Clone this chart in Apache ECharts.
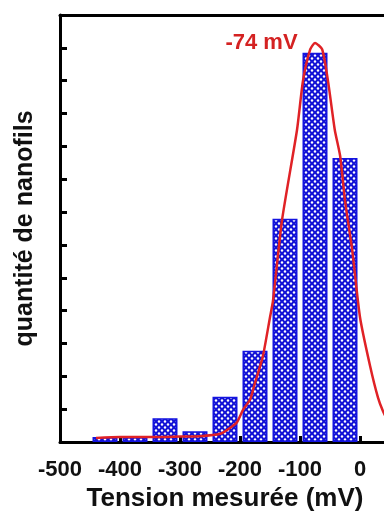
<!DOCTYPE html>
<html>
<head>
<meta charset="utf-8">
<script src="https://cdn.jsdelivr.net/npm/echarts@6/dist/echarts.min.js"></script>
<style>
html,body{margin:0;padding:0;background:#fff;}
#c{width:384px;height:511px;}
</style>
</head>
<body>
<div id="c"></div>
<script>
// Bin centres (mV) and bar heights (relative counts)
const binCenters = [-425, -375, -325, -275, -225, -175, -125, -75, -25];
const binCounts  = [0.3, 0.3, 1.45, 0.65, 2.75, 5.55, 13.6, 23.7, 17.3];

// Fitted curve (mV, value)
const fitX = [-440, -400, -350, -300, -267, -233, -215, -205, -195, -183, -175, -162, -150, -145, -130, -105, -95, -83, -75, -63, -53, -42, -33, -25, -13, 0, 17, 30, 38, 50];
const fitY = [0.25, 0.3, 0.3, 0.33, 0.35, 0.5, 0.9, 1.2, 1.95, 2.6, 3.6, 5.2, 7.6, 8.6, 13.5, 19.0, 22.0, 23.9, 24.3, 23.9, 21.9, 19.0, 17.4, 14.7, 11.7, 7.6, 4.6, 2.7, 1.9, 1.0];

const peakX = -74;
const peakLabel = '-74 mV';
const xTicks = [-500, -400, -300, -200, -100, 0];

const xTitle = 'Tension mesurée (mV)';
const yTitle = 'quantité de nanofils';

// hatch pattern for bars
function makePattern() {
  const c = document.createElement('canvas');
  c.width = 6; c.height = 6;
  const g = c.getContext('2d');
  g.fillStyle = '#1414d6';
  g.fillRect(0, 0, 6, 6);
  g.fillStyle = '#ffffff';
  const pts = [[3, 1.5], [0, 4.5], [6, 4.5]];
  pts.forEach(p => { g.beginPath(); g.arc(p[0], p[1], 1.2, 0, Math.PI * 2); g.fill(); });
  return c;
}

const chart = echarts.init(document.getElementById('c'), null, {renderer: 'canvas'});
const font = "'Liberation Sans', Arial, sans-serif";

const option = {
  animation: false,
  backgroundColor: '#ffffff',
  grid: {left: 60, top: 15, bottom: 69, right: -6, containLabel: false, outerBoundsMode: 'none'},
  xAxis: [{
    type: 'value', min: -500, max: 50, interval: 100,
    name: xTitle, nameLocation: 'middle', nameGap: 34,
    nameTextStyle: {fontFamily: font, fontWeight: 'bold', fontSize: 26, color: '#111'},
    axisLine: {show: true, onZero: false, lineStyle: {color: '#000', width: 3}},
    axisTick: {show: true, inside: true, length: 6, lineStyle: {color: '#000', width: 3}},
    axisLabel: {show: true, showMaxLabel: false, margin: 17, fontFamily: font, fontWeight: 'bold', fontSize: 22, color: '#111',
      formatter: v => (xTicks.indexOf(v) >= 0 ? String(v) : '')},
    splitLine: {show: false}
  }, {
    type: 'value', position: 'top', min: -500, max: 50,
    axisLine: {show: true, onZero: false, lineStyle: {color: '#000', width: 3}},
    axisTick: {show: false}, axisLabel: {show: false}, splitLine: {show: false}
  }],
  yAxis: {
    type: 'value', min: 0, max: 26, interval: 2,
    name: yTitle, nameLocation: 'middle', nameGap: 22, nameRotate: 90,
    nameTextStyle: {fontFamily: font, fontWeight: 'bold', fontSize: 25, color: '#111'},
    axisLine: {show: true, onZero: false, lineStyle: {color: '#000', width: 3}},
    axisTick: {show: true, inside: true, length: 7, lineStyle: {color: '#000', width: 3}},
    axisLabel: {show: false},
    splitLine: {show: false}
  },
  series: [{
    type: 'bar',
    data: binCenters.map((x, i) => [x, binCounts[i]]),
    barWidth: 25,
    itemStyle: {color: {image: makePattern(), repeat: 'repeat'}, borderColor: '#1414e0', borderWidth: 1.5},
    z: 2
  }, {
    type: 'line',
    data: fitX.map((x, i) => [x, fitY[i]]),
    showSymbol: false, symbol: 'none', smooth: 0.2,
    lineStyle: {color: '#e02226', width: 2.5},
    z: 3,
    markPoint: {
      symbol: 'circle', symbolSize: 0,
      data: [{coord: [peakX, Math.max.apply(null, fitY)]}],
      label: {show: true, position: 'left', distance: 0, offset: [-18, 0], formatter: peakLabel,
        fontFamily: font, fontWeight: 'bold', fontSize: 22, color: '#d42222'}
    }
  }]
};
chart.setOption(option);
</script>
</body>
</html>
